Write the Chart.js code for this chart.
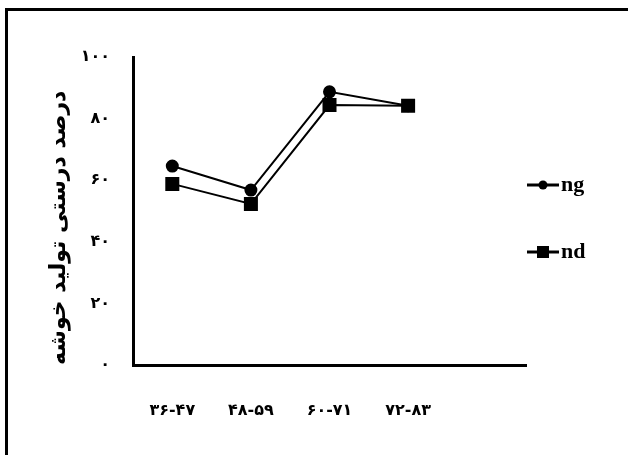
<!DOCTYPE html>
<html>
<head>
<meta charset="utf-8">
<script src="https://cdn.jsdelivr.net/npm/chart.js@4.4.1/dist/chart.umd.min.js"></script>
<style>
  body { margin: 0; background: #fff; }
  #wrap { position: relative; width: 628px; height: 455px; overflow: hidden; }
  #frame { position: absolute; left: 5px; top: 8px; width: 700px; height: 500px;
           border-top: 3px solid #000; border-left: 3px solid #000; pointer-events: none; }
</style>
</head>
<body>
<div id="wrap">
  <canvas id="myChart" width="628" height="455"></canvas>
  <div id="frame"></div>
</div>
<script>
const categories = ['۳۶-۴۷', '۴۸-۵۹', '۶۰-۷۱', '۷۲-۸۳'];
const seriesNames = ['ng', 'nd'];
const ngValues = [64.6, 56.8, 88.7, 84.2];
const ndValues = [58.8, 52.3, 84.4, 84.2];
const yTickLabels = ['۰', '۲۰', '۴۰', '۶۰', '۸۰', '۱۰۰'];
const yTitle = 'درصد درستی تولید خوشه';

// small line+marker pictures for the legend
function legendIcon(shape) {
  const c = document.createElement('canvas');
  c.width = 32;
  c.height = 14;
  const g = c.getContext('2d');
  g.fillStyle = '#000';
  g.strokeStyle = '#000';
  g.lineWidth = 3;
  g.beginPath();
  g.moveTo(0, 7);
  g.lineTo(32, 7);
  g.stroke();
  if (shape === 'circle') {
    g.beginPath();
    g.arc(16, 7, 4.5, 0, Math.PI * 2);
    g.fill();
  } else {
    g.fillRect(10, 1, 12, 12);
  }
  return c;
}
const icons = [legendIcon('circle'), legendIcon('rect')];

// move the legend next to the plot like the original
const legendPlacer = {
  id: 'legendPlacer',
  afterLayout(chart) {
    const lg = chart.legend;
    const pad = lg.options.labels.padding;
    const w = lg.width, h = lg.height;
    lg.left = 536 - pad;
    lg.right = lg.left + w;
    lg.top = 174 - pad;
    lg.bottom = lg.top + h;
  }
};

window.onload = function() {
  const ctx = document.getElementById('myChart').getContext('2d');
  const myChart = new Chart(ctx, {
    type: 'line',
    data: {
      labels: [...categories, ''],
      datasets: [{
        label: seriesNames[0],
        data: ngValues,
        borderColor: '#000',
        backgroundColor: '#000',
        borderWidth: 2,
        tension: 0,
        pointStyle: 'circle',
        pointRadius: 5.5,
        order: 1
      }, {
        label: seriesNames[1],
        data: ndValues,
        borderColor: '#000',
        backgroundColor: '#000',
        borderWidth: 2,
        tension: 0,
        pointStyle: 'rect',
        pointRadius: 8.5,
        order: 0
      }]
    },
    options: {
      responsive: false,
      animation: false,
      devicePixelRatio: 1,
      layout: {
        padding: { top: 57, right: 2, bottom: 0, left: 0 }
      },
      plugins: {
        tooltip: { enabled: false },
        legend: {
          position: 'right',
          align: 'start',
          maxWidth: 100,
          labels: {
            usePointStyle: true,
            pointStyleWidth: 14,
            padding: 45,
            color: '#000',
            font: { family: 'Liberation Serif', size: 22, weight: 'bold' },
            generateLabels: (chart) => chart.data.datasets.map((ds, i) => ({
              text: ds.label,
              pointStyle: icons[i],
              fillStyle: '#000',
              strokeStyle: '#000',
              lineWidth: 0,
              fontColor: '#000',
              hidden: false,
              datasetIndex: i
            }))
          }
        }
      },
      scales: {
        x: {
          offset: true,
          grid: { display: false, drawTicks: false },
          border: { color: '#000', width: 3 },
          ticks: {
            color: '#000',
            padding: 36,
            maxRotation: 0,
            autoSkip: false,
            font: { family: 'DejaVu Sans', size: 16, weight: 'bold' }
          },
          afterFit: (scale) => { scale.height = 90; }
        },
        y: {
          min: 0,
          max: 100,
          grid: { display: false, drawTicks: false },
          border: { color: '#000', width: 3 },
          ticks: {
            stepSize: 20,
            color: '#000',
            padding: 23,
            font: { family: 'DejaVu Sans', size: 16, weight: 'bold' },
            callback: (value, index) => yTickLabels[index]
          },
          title: {
            display: true,
            text: yTitle,
            align: 'start',
            color: '#000',
            padding: { top: 46, bottom: 0 },
            font: { family: 'DejaVu Sans', size: 22, weight: 'bold' }
          },
          afterFit: (scale) => { scale.width = 133; }
        }
      }
    },
    plugins: [legendPlacer]
  });
};
</script>
</body>
</html>
